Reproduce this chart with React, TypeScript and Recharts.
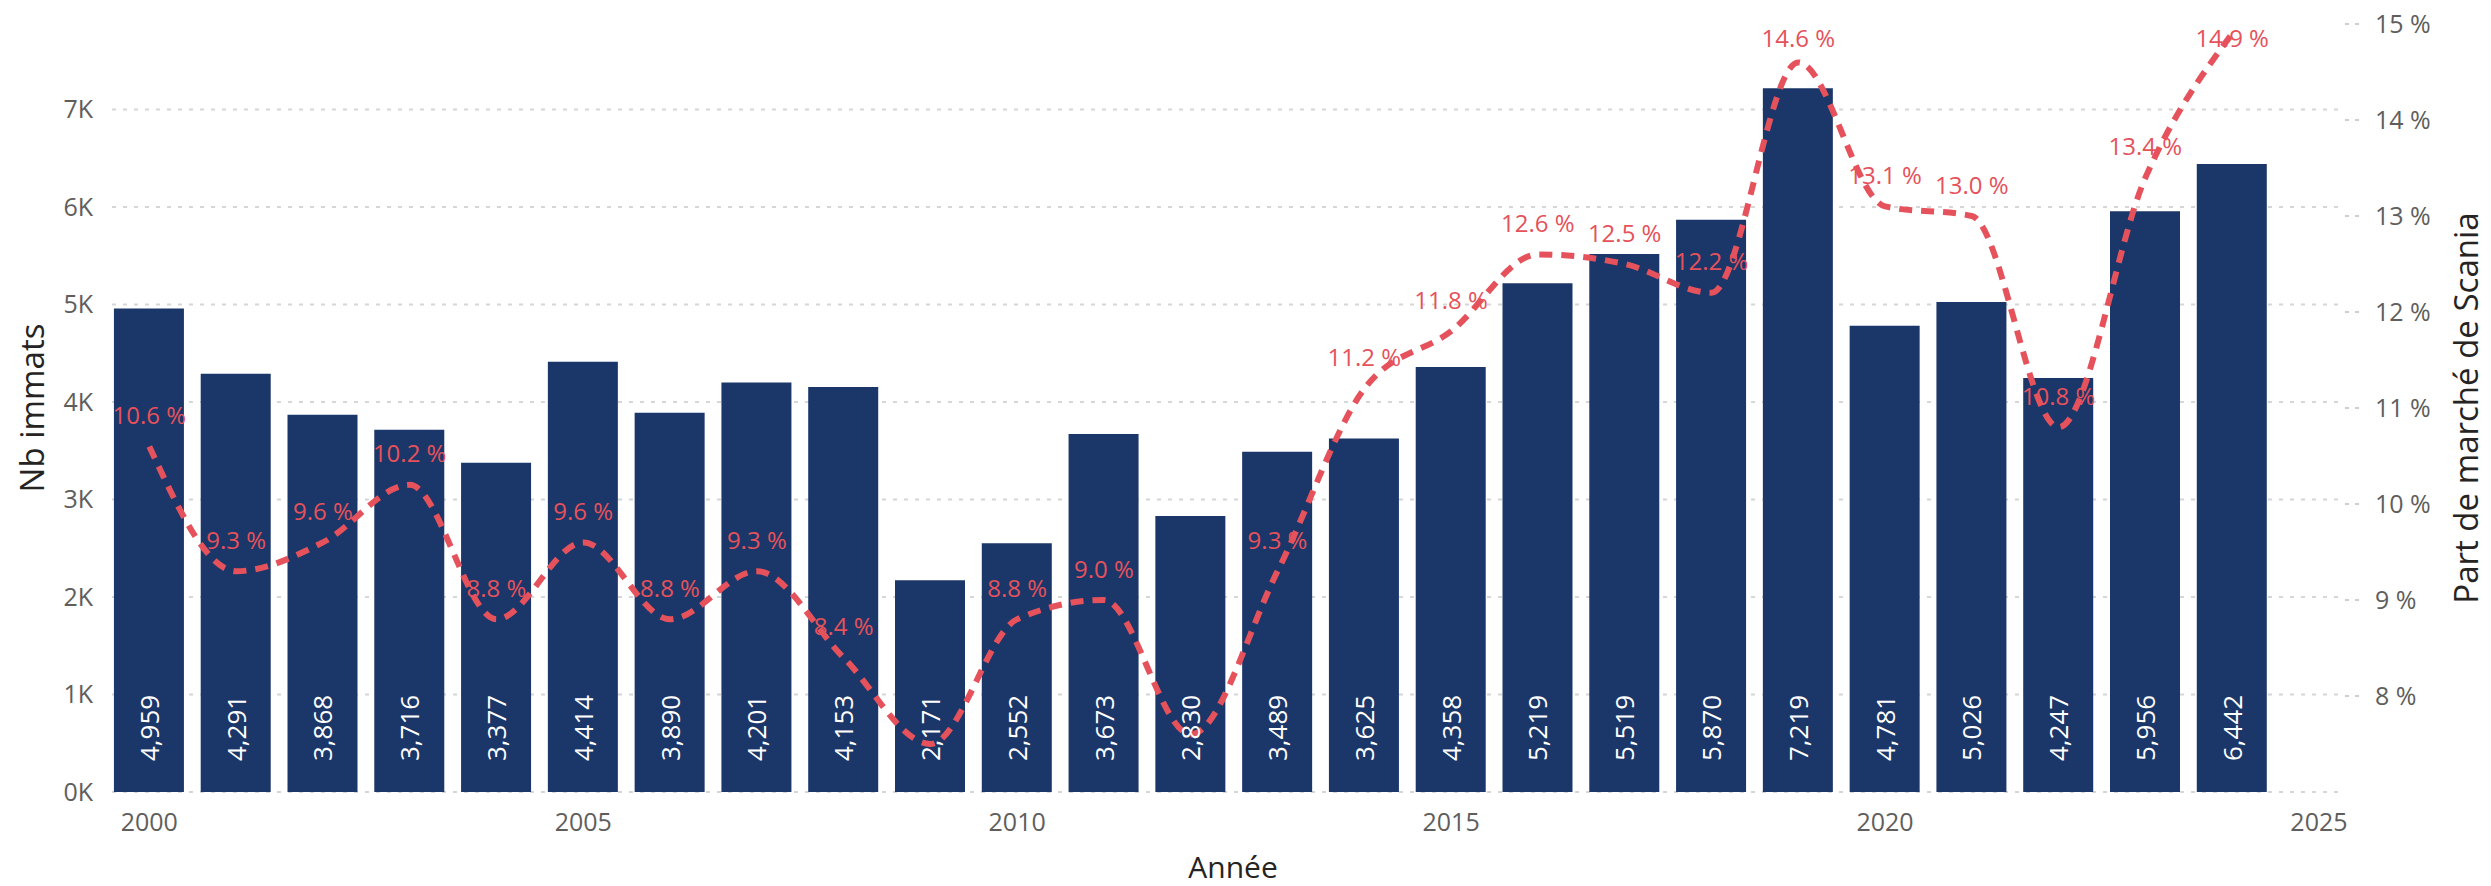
import React from 'react';
import { ComposedChart, Bar, Line, XAxis, YAxis, CartesianGrid, LabelList, Label } from 'recharts';

const years = [2000, 2001, 2002, 2003, 2004, 2005, 2006, 2007, 2008, 2009, 2010, 2011, 2012, 2013, 2014, 2015, 2016, 2017, 2018, 2019, 2020, 2021, 2022, 2023, 2024];
const registrations = [4959, 4291, 3868, 3716, 3377, 4414, 3890, 4201, 4153, 2171, 2552, 3673, 2830, 3489, 3625, 4358, 5219, 5519, 5870, 7219, 4781, 5026, 4247, 5956, 6442];
const marketShare = [10.6, 9.3, 9.6, 10.2, 8.8, 9.6, 8.8, 9.3, 8.4, 7.5, 8.8, 9.0, 7.6, 9.3, 11.2, 11.8, 12.6, 12.5, 12.2, 14.6, 13.1, 13.0, 10.8, 13.4, 14.9];
const hiddenShareLabelYears = [2009, 2012];
const xTicks = [2000, 2005, 2010, 2015, 2020, 2025];
const leftTicks = [0, 1000, 2000, 3000, 4000, 5000, 6000, 7000];
const rightTicks = [8, 9, 10, 11, 12, 13, 14, 15];

const data = years.map((year, i) => ({ year, nb: registrations[i], share: marketShare[i] }));

const FONT = '"Open Sans", "DejaVu Sans", sans-serif';
const BAR_COLOR = '#1B3668';
const LINE_COLOR = '#E5525B';
const TICK_COLOR = '#605E5C';
const TITLE_COLOR = '#252423';

const formatThousands = (v: number) => String(v).replace(/\B(?=(\d{3})+(?!\d))/g, ',');

const BarValueLabel = (props: any) => {
  const { x, y, width, height, value } = props;
  const cx = Number(x) + Number(width) / 2;
  const by = Number(y) + Number(height) - 31;
  return (
    <text
      x={cx}
      y={by}
      transform={`rotate(-90 ${cx} ${by})`}
      textAnchor="start"
      dominantBaseline="central"
      fill="#FFFFFF"
      fontSize={26}
      fontFamily={FONT}
    >
      {formatThousands(value)}
    </text>
  );
};

const ShareLabel = (props: any) => {
  const { x, y, value, index } = props;
  if (hiddenShareLabelYears.includes(years[index])) return null;
  const ty = Math.max(Number(y) - 32, 37);
  return (
    <text
      x={Number(x)}
      y={ty}
      textAnchor="middle"
      dominantBaseline="central"
      fill={LINE_COLOR}
      fontSize={24}
      fontFamily={FONT}
    >
      {`${Number(value).toFixed(1)} %`}
    </text>
  );
};

export default function App() {
  return (
    <div style={{ position: 'absolute', left: 0, top: 0, width: 2491, height: 886, background: '#FFFFFF', fontFamily: FONT }}>
      <ComposedChart
        width={2491}
        height={886}
        data={data}
        margin={{ top: 12, right: 46, bottom: 34, left: 32 }}
      >
        <CartesianGrid
          yAxisId="left"
          syncWithTicks
          horizontal
          vertical={false}
          stroke="#D6D6D6"
          strokeWidth={2}
          strokeDasharray="4 7"
        />
        <XAxis
          dataKey="year"
          type="number"
          domain={[1999.57, 2025.3]}
          ticks={xTicks}
          allowDataOverflow
          axisLine={false}
          tickLine={false}
          tickSize={6}
          tickMargin={15}
          height={60}
          tick={{ fill: TICK_COLOR, fontSize: 25, fontFamily: FONT }}
        >
          <Label
            content={() => (
              <text x={1233} y={866} textAnchor="middle" dominantBaseline="central" fill={TITLE_COLOR} fontSize={30} fontFamily={FONT}>
                Année
              </text>
            )}
          />
        </XAxis>
        <YAxis
          yAxisId="left"
          orientation="left"
          width={80}
          domain={[0, 8000]}
          ticks={leftTicks}
          allowDataOverflow
          axisLine={false}
          tickLine={false}
          tickSize={6}
          tickMargin={13}
          tickFormatter={(v: number) => `${v / 1000}K`}
          tick={{ fill: TICK_COLOR, fontSize: 25, fontFamily: FONT }}
        >
          <Label
            content={() => (
              <text x={31} y={408} transform="rotate(-90 31 408)" textAnchor="middle" dominantBaseline="central" fill={TITLE_COLOR} fontSize={33} fontFamily={FONT}>
                Nb immats
              </text>
            )}
          />
        </YAxis>
        <YAxis
          yAxisId="right"
          orientation="right"
          width={100}
          domain={[7, 15.125]}
          ticks={rightTicks}
          allowDataOverflow
          axisLine={false}
          tickLine={{ stroke: '#D0D0D0', strokeWidth: 2, strokeDasharray: '4 6' }}
          tickSize={14}
          tickMargin={16}
          tickFormatter={(v: number) => `${v} %`}
          tick={{ fill: TICK_COLOR, fontSize: 25, fontFamily: FONT, textAnchor: 'start' }}
        >
          <Label
            content={() => (
              <text x={2465} y={408} transform="rotate(-90 2465 408)" textAnchor="middle" dominantBaseline="central" fill={TITLE_COLOR} fontSize={33} fontFamily={FONT}>
                Part de marché de Scania
              </text>
            )}
          />
        </YAxis>
        <Bar yAxisId="left" dataKey="nb" fill={BAR_COLOR} barSize={70} isAnimationActive={false}>
          <LabelList dataKey="nb" content={BarValueLabel} />
        </Bar>
        <Line
          yAxisId="right"
          dataKey="share"
          type="monotone"
          stroke={LINE_COLOR}
          strokeWidth={6}
          strokeDasharray="13 9"
          dot={false}
          activeDot={false}
          isAnimationActive={false}
        >
          <LabelList dataKey="share" content={ShareLabel} />
        </Line>
      </ComposedChart>
    </div>
  );
}
